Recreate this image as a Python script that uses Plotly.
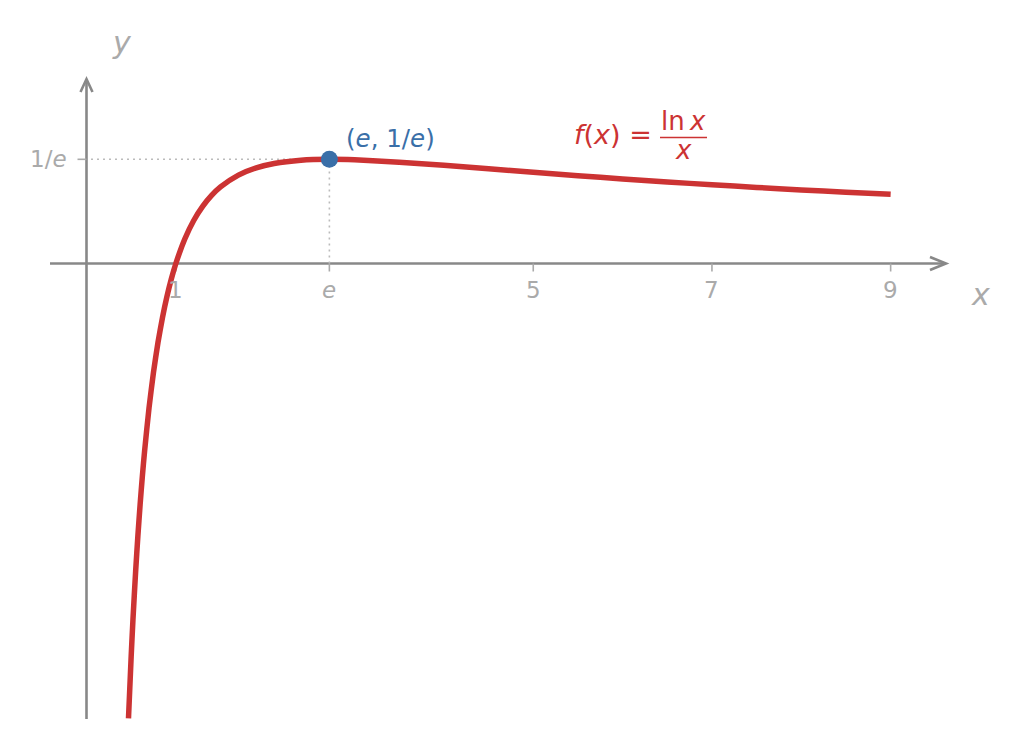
import plotly.graph_objects as go

# ---- data (f(x) = ln x / x) ----
curve_x = [0.47, 0.50, 0.52, 0.55, 0.575, 0.60, 0.625, 0.65, 0.70, 0.75, 0.80, 0.85,
           0.90, 0.95, 1.00, 1.10, 1.20, 1.30, 1.40, 1.50, 1.70, 1.90, 2.10, 2.40,
           2.718, 3.00, 3.50, 4.00, 4.50, 5.00, 5.50, 6.00, 6.50, 7.00, 7.50, 8.00,
           8.50, 9.00]
curve_y = [-1.60643, -1.386294, -1.257551, -1.086976, -0.962409, -0.851376, -0.752006,
           -0.662743, -0.509536, -0.383576, -0.278929, -0.191199, -0.117067, -0.053993,
           0.0, 0.086646, 0.151935, 0.201819, 0.240337, 0.270310, 0.312134, 0.337818,
           0.353304, 0.364779, 0.367879, 0.366204, 0.357932, 0.346574, 0.334239,
           0.321888, 0.309954, 0.298627, 0.287969, 0.277987, 0.268654, 0.259930,
           0.251772, 0.244136]

max_x = [2.71828]
max_y = [0.367879]

x_tick_vals = [1, 2.71828, 5, 7, 9]
x_tick_text = ["1", "<i>e</i>", "5", "7", "9"]
y_tick_vals = [0.367879]
y_tick_text = ["1/<i>e</i>"]

# ---- geometry helpers (pixel scale of the reference) ----
W, H = 1023, 749
X0PX, XS = 86.5, 89.35      # pixel of x=0, pixels per unit
Y0PX, YS = 263.5, 283.2     # pixel of y=0, pixels per unit


def dx(px):
    return (px - X0PX) / XS


def dy(py):
    return (Y0PX - py) / YS


RED = "#cc3333"
BLUE = "#3a6fa8"
AXIS = "#888888"
LABEL = "#aaaaaa"
FONT = "DejaVu Sans"

fig = go.Figure()

fig.add_trace(go.Scatter(
    x=curve_x, y=curve_y, mode="lines",
    line=dict(color=RED, width=5.5, shape="spline", smoothing=0.6),
    hoverinfo="skip", showlegend=False))

fig.add_trace(go.Scatter(
    x=max_x, y=max_y, mode="markers",
    marker=dict(color=BLUE, size=17, line=dict(width=0)),
    hoverinfo="skip", showlegend=False))

shapes = []
# axes lines
shapes.append(dict(type="line", xref="x", yref="y", x0=dx(50), x1=dx(945), y0=0, y1=0,
                   line=dict(color=AXIS, width=2.6), layer="below"))
shapes.append(dict(type="line", xref="x", yref="y", x0=0, x1=0, y0=dy(719), y1=dy(79),
                   line=dict(color=AXIS, width=2.6), layer="below"))
# arrow heads
shapes.append(dict(type="path", xref="x", yref="y",
                   path=f"M {dx(930)},{6.5/YS} L {dx(946)},0 L {dx(930)},{-6.5/YS}",
                   line=dict(color=AXIS, width=2.6), layer="below"))
shapes.append(dict(type="path", xref="x", yref="y",
                   path=f"M {-6/XS},{dy(92)} L 0,{dy(79)} L {6/XS},{dy(92)}",
                   line=dict(color=AXIS, width=2.6), layer="below"))
# tick marks
for v in x_tick_vals:
    shapes.append(dict(type="line", xref="x", yref="y", x0=v, x1=v, y0=0, y1=-8/YS,
                       line=dict(color=LABEL, width=1.6), layer="below"))
for v in y_tick_vals:
    shapes.append(dict(type="line", xref="x", yref="y", x0=-9/XS, x1=0, y0=v, y1=v,
                       line=dict(color=LABEL, width=1.6), layer="below"))
# dotted guide lines
shapes.append(dict(type="line", xref="x", yref="y", x0=dx(91), x1=max_x[0],
                   y0=max_y[0], y1=max_y[0],
                   line=dict(color="#bbbbbb", width=1.6, dash="2px,4px"), layer="below"))
shapes.append(dict(type="line", xref="x", yref="y", x0=max_x[0], x1=max_x[0],
                   y0=0, y1=max_y[0],
                   line=dict(color="#bbbbbb", width=1.6, dash="2px,4px"), layer="below"))
# fraction bar of formula
shapes.append(dict(type="line", xref="x", yref="y", x0=dx(660), x1=dx(707),
                   y0=dy(137.5), y1=dy(137.5), line=dict(color=RED, width=1.6)))

annotations = []
for v, t in zip(x_tick_vals, x_tick_text):
    annotations.append(dict(x=v, y=dy(290), text=t, showarrow=False, xanchor="center",
                            yanchor="middle", font=dict(family=FONT, size=23, color=LABEL)))
for v, t in zip(y_tick_vals, y_tick_text):
    annotations.append(dict(x=dx(69), y=v, text=t, showarrow=False, xanchor="right",
                            yanchor="middle", font=dict(family=FONT, size=23, color=LABEL)))
# axis names
annotations.append(dict(x=dx(980), y=dy(294), text="<i>x</i>", showarrow=False,
                        xanchor="center", yanchor="middle",
                        font=dict(family=FONT, size=30, color=LABEL)))
annotations.append(dict(x=dx(122), y=dy(42), text="<i>y</i>", showarrow=False,
                        xanchor="center", yanchor="middle",
                        font=dict(family=FONT, size=30, color=LABEL)))
# point label
annotations.append(dict(x=dx(344), y=dy(138), text="(<i>e</i>, 1/<i>e</i>)", showarrow=False,
                        xanchor="left", yanchor="middle",
                        font=dict(family=FONT, size=24.5, color=BLUE)))
# formula
annotations.append(dict(x=dx(654), y=dy(134), text="<i>f</i>(<i>x</i>) =", showarrow=False,
                        xanchor="right", yanchor="middle",
                        font=dict(family=FONT, size=27, color=RED)))
annotations.append(dict(x=dx(683.5), y=dy(121), text="ln\u2009<i>x</i>", showarrow=False,
                        xanchor="center", yanchor="middle",
                        font=dict(family=FONT, size=26, color=RED)))
annotations.append(dict(x=dx(683.5), y=dy(150), text="<i>x</i>", showarrow=False,
                        xanchor="center", yanchor="middle",
                        font=dict(family=FONT, size=26, color=RED)))

fig.update_layout(
    width=W, height=H, autosize=False,
    margin=dict(l=0, r=0, t=0, b=0, pad=0),
    paper_bgcolor="white", plot_bgcolor="white",
    xaxis=dict(range=[dx(0), dx(W)], visible=False, fixedrange=True),
    yaxis=dict(range=[dy(H), dy(0)], visible=False, fixedrange=True),
    shapes=shapes, annotations=annotations, showlegend=False,
    font=dict(family=FONT),
)

fig.write_html("out.html")
